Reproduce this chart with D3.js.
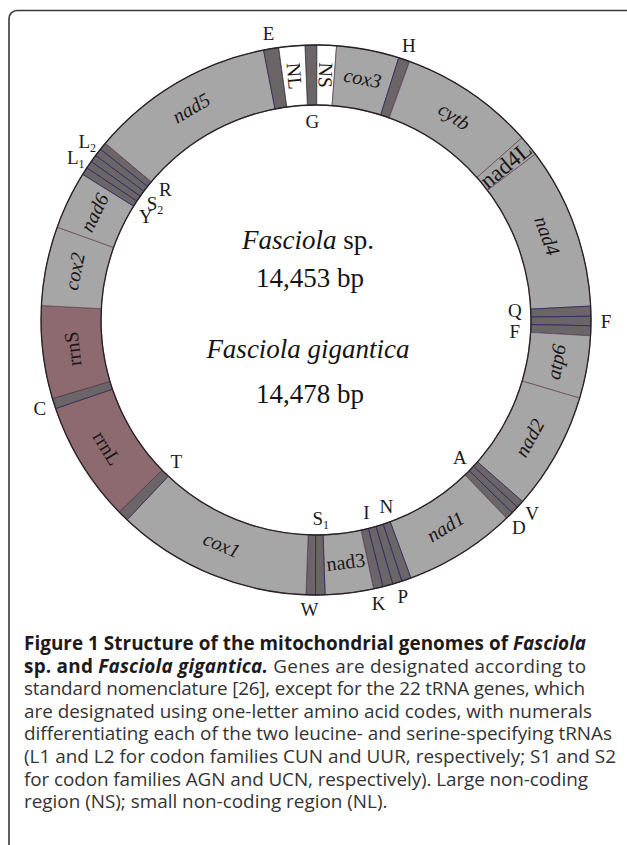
<!DOCTYPE html>
<html><head><meta charset="utf-8">
<script src="https://cdn.jsdelivr.net/npm/d3@7"></script>
<style>html,body{margin:0;padding:0;background:#fff;} svg{display:block}</style>
</head><body>
<svg id="chart" width="627" height="845"></svg>
<script>
// ---------------- data ----------------
const genomeLength = 14453;
const geneNames  = ["G","NS","cox3","H","cytb","nad4L","nad4","Q","F","F","atp6","nad2","V","A","D","nad1","N","P","I","K","nad3","S1","W","cox1","T","rrnL","C","rrnS","cox2","nad6","Y","L1","S2","L2","R","nad5","E","NL"];
const geneStarts = [0,100,265,795,891,2039,2216,3589,3674,3754,3838,4368,5364,5428,5492,5557,6508,6588,6668,6753,6833,7243,7323,7403,9061,9154,10178,10266,11053,11724,12216,12281,12345,12409,12474,12538,14104,14232];
const geneEnds   = [100,265,795,891,2039,2216,3589,3674,3754,3838,4368,5364,5428,5492,5557,6508,6588,6668,6753,6833,7243,7323,7403,9061,9154,10178,10266,11053,11724,12216,12281,12345,12409,12474,12538,14104,14232,14453];
const geneTypes  = ["t","n","p","t","p","p","p","t","t","t","p","p","t","t","t","p","t","t","t","t","p","t","t","p","t","r","t","r","p","p","t","t","t","t","t","p","t","n"];
const titleSpecies = ["Fasciola", "Fasciola gigantica"];
const titleLengths = ["14,453 bp", "14,478 bp"];
const captionLines = [
  [["b","Figure 1 Structure of the mitochondrial genomes of "],["bi","Fasciola"]],
  [["b","sp. and "],["bi","Fasciola gigantica."],["r"," Genes are designated according to"]],
  [["r","standard nomenclature [26], except for the 22 tRNA genes, which"]],
  [["r","are designated using one-letter amino acid codes, with numerals"]],
  [["r","differentiating each of the two leucine- and serine-specifying tRNAs"]],
  [["r","(L1 and L2 for codon families CUN and UUR, respectively; S1 and S2"]],
  [["r","for codon families AGN and UCN, respectively). Large non-coding"]],
  [["r","region (NS); small non-coding region (NL)."]]
];

// ---------------- layout ----------------
const svg = d3.select("#chart");
const W = 627, H = 845;
const cx = 316, cy = 320, rInner = 215, rOuter = 275;
const startDeg = -2.3;
const toRad = Math.PI / 180;
const angle = d3.scaleLinear().domain([0, genomeLength])
  .range([startDeg * toRad, startDeg * toRad + 2 * Math.PI]);

const genes = geneNames.map((n, i) => ({name: n, start: geneStarts[i], end: geneEnds[i], type: geneTypes[i], i}));

// frame
svg.append("path")
  .attr("d", `M${W},10.5 L17,10.5 A8,8 0 0 0 9,18.5 L9,${H}`)
  .attr("fill", "none").attr("stroke", "#3a3a3a").attr("stroke-width", 1.6);

const fillOf = {p: "#a6a6a6", r: "#8c6a70", t: "#6b6567", n: "#ffffff"};
const strokeOf = {p: "#6a4a55", r: "#5a3e48", t: "#2e2c62", n: "#3a3a3a"};

const ring = svg.append("g").attr("transform", `translate(${cx},${cy})`);
const arc = d3.arc().innerRadius(rInner).outerRadius(rOuter)
  .startAngle(d => angle(d.start)).endAngle(d => angle(d.end));

ring.selectAll("path.seg").data(genes).join("path")
  .attr("class", "seg")
  .attr("d", arc)
  .attr("fill", d => fillOf[d.type])
  .attr("stroke", d => strokeOf[d.type])
  .attr("stroke-width", d => d.type === "t" ? 0.9 : 0.8);

// ring outlines
[rInner, rOuter].forEach(r => ring.append("circle").attr("r", r)
  .attr("fill", "none").attr("stroke", "#2a2228").attr("stroke-width", 1.3));

const polar = (a, r) => [Math.sin(a) * r, -Math.cos(a) * r];
const midA = d => angle((d.start + d.end) / 2);

// ---- gene labels inside the ring ----
const italicSet = new Set(["nad5","cox3","cytb","nad4","atp6","nad2","nad1","cox1","cox2","nad6"]);
const radialOut = new Set(["nad4L"]);
const radialIn = new Set(["NL","NS"]);
const inRing = genes.filter(d => d.type !== "t");
ring.selectAll("text.gene").data(inRing).join("text")
  .attr("class", "gene")
  .attr("transform", d => {
    const a = midA(d);
    const [x, y] = polar(a, (rInner + rOuter) / 2);
    let deg = a / toRad;
    deg = ((deg % 360) + 360) % 360;
    let rot;
    if (radialOut.has(d.name)) rot = deg - 90;
    else if (radialIn.has(d.name)) rot = deg + 90 - (deg > 180 ? 360 : 0);
    else if (deg > 95 && deg < 255) rot = deg - 180;
    else rot = deg > 180 ? deg - 360 : deg;
    return `translate(${x},${y}) rotate(${rot})`;
  })
  .attr("text-anchor", "middle")
  .attr("dy", d => /[A-Z]/.test(d.name) ? "0.34em" : "0.28em")
  .style("font-family", "'Liberation Serif','Times New Roman',serif")
  .style("font-style", d => italicSet.has(d.name) ? "italic" : "normal")
  .style("font-size", d => d.name === "nad4L" ? "23px" : "20px")
  .style("fill", "#1c1618")
  .text(d => d.name);

// ---- tRNA labels ----
const outerSide = new Set([3, 8, 12, 14, 17, 19, 22, 26, 31, 33, 36]); // gene indices labelled outside
const tr = genes.filter(d => d.type === "t");
// contiguous tRNA blocks → spread labels on each side
const blocks = [];
tr.forEach(d => {
  const last = blocks[blocks.length - 1];
  if (last && last[last.length - 1].end === d.start) last.push(d); else blocks.push([d]);
});
const labelAngle = new Map();
blocks.forEach(b => {
  const c = angle((b[0].start + b[b.length - 1].end) / 2);
  b.forEach(d => {
    const k = outerSide.has(d.i) ? 1.2 : 1.5;
    labelAngle.set(d.i, c + (midA(d) - c) * k);
  });
});
const tl = ring.selectAll("text.trna").data(tr).join("text")
  .attr("class", "trna")
  .attr("x", d => polar(labelAngle.get(d.i), outerSide.has(d.i) ? 290 : 199)[0])
  .attr("y", d => polar(labelAngle.get(d.i), outerSide.has(d.i) ? 290 : 199)[1])
  .attr("dy", "0.34em")
  .attr("text-anchor", "middle")
  .style("font-family", "'Liberation Serif','Times New Roman',serif")
  .style("font-size", "19px")
  .style("fill", "#1a1a1a");
tl.each(function(d) {
  const m = d.name.match(/^([A-Z])(\d?)$/);
  const t = d3.select(this);
  t.append("tspan").text(m[1]);
  if (m[2]) t.append("tspan").attr("dy", "4").style("font-size", "12px").text(m[2]);
});

// ---- central titles ----
const serif = "'Liberation Serif','Times New Roman',serif";
const titleY = [249, 358], lenY = [287, 403];
titleSpecies.forEach((s, i) => {
  const t = svg.append("text").attr("x", cx - 8).attr("y", titleY[i]).attr("text-anchor", "middle")
    .style("font-family", serif).style("font-size", "27px").style("fill", "#141414");
  t.append("tspan").style("font-style", "italic").text(s);
  if (i === 0) t.append("tspan").text(" sp.");
  svg.append("text").attr("x", cx - 6).attr("y", lenY[i]).attr("text-anchor", "middle")
    .style("font-family", serif).style("font-size", "27px").style("fill", "#141414")
    .text(titleLengths[i]);
});

// ---- caption ----
const capX = 24, capY0 = 650, capDY = 22.6;
const capEnds = [586, 586, 585, 592, 612, 616, 588, null];
const capFont = "'Open Sans','Noto Sans',sans-serif";
const capTexts = captionLines.map((runs, li) => {
  const t = svg.append("text").attr("x", capX).attr("y", capY0 + li * capDY)
    .style("font-family", capFont).style("font-size", "18px");
  runs.forEach(([st, s]) => {
    t.append("tspan").text(s)
      .style("font-weight", st.startsWith("b") ? "700" : "400")
      .style("font-style", st.endsWith("i") ? "italic" : "normal")
      .style("fill", st.startsWith("b") ? "#1e1a1b" : "#333");
  });
  return t;
});
// fit font size to the measured line widths
const ratios = capTexts.map((t, i) => capEnds[i] ? (capEnds[i] - capX) / t.node().getComputedTextLength() : null)
  .filter(r => r);
const fs = 18 * d3.median(ratios);
capTexts.forEach((t, i) => {
  t.style("font-size", fs + "px");
  if (capEnds[i]) {
    const nat = t.node().getComputedTextLength();
    const n = t.text().length;
    t.style("letter-spacing", ((capEnds[i] - capX - nat) / (n - 1)) + "px");
  }
});
</script>
</body></html>
